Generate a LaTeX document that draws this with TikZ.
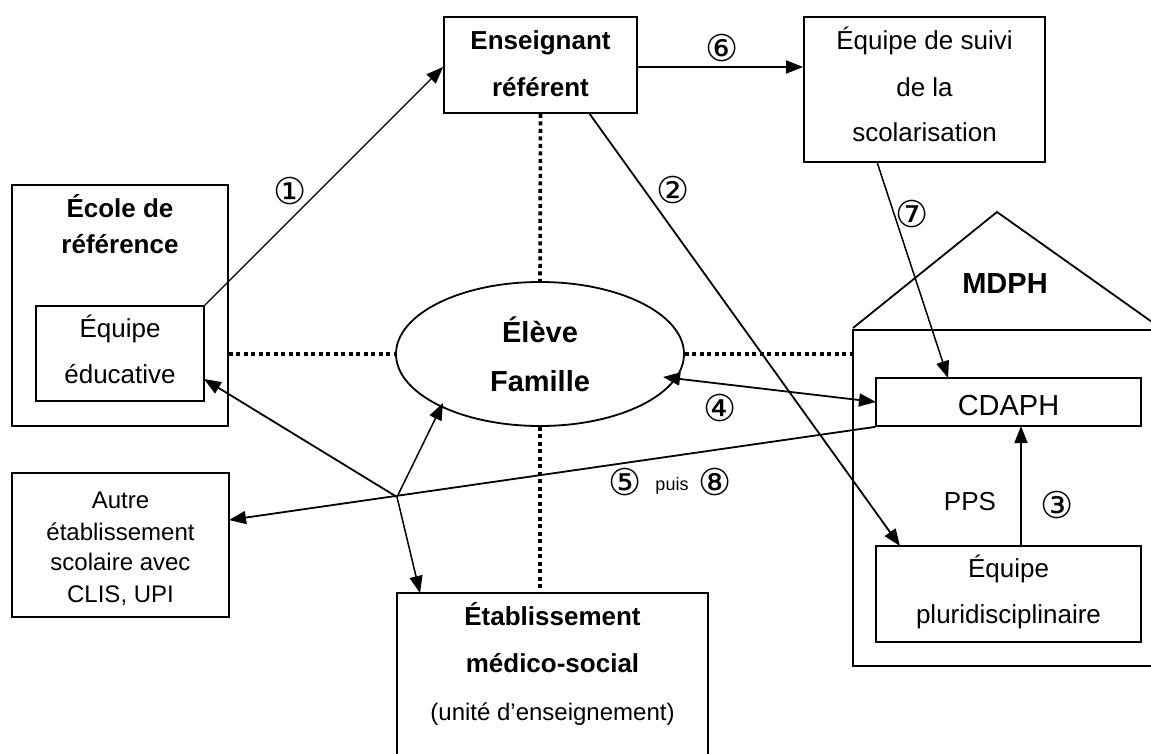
\documentclass[tikz,border=0pt]{standalone}
\usepackage{fontspec}
\setmainfont{Liberation Sans}
\newfontfamily\dv{DejaVu Sans}
\usetikzlibrary{arrows.meta,shapes.geometric}
\begin{document}
\begin{tikzpicture}[x=1pt,y=-1pt,
  box/.style={draw,line width=1.8pt,inner sep=0pt},
  reg/.style={font=\fontsize{26}{30}\selectfont,inner sep=0pt,anchor=base},
  sml/.style={font=\fontsize{24}{28}\selectfont,inner sep=0pt,anchor=base},
  bld/.style={font=\fontsize{26}{30}\selectfont\bfseries,inner sep=0pt,anchor=base},
  big/.style={font=\fontsize{29}{34}\selectfont,inner sep=0pt,anchor=base},
  bigb/.style={font=\fontsize{29}{34}\selectfont\bfseries,inner sep=0pt,anchor=base},
  con/.style={line width=1.8pt},
  arr/.style={con,-{Triangle[length=17pt,width=13pt]}},
  darr/.style={con,{Triangle[length=17pt,width=13pt]}-{Triangle[length=17pt,width=13pt]}},
  dotl/.style={line width=3.6pt,dash pattern=on 4pt off 3.5pt},
  num/.style={font=\fontsize{37}{37}\dv,inner sep=0pt}]
\useasboundingbox (0,0) rectangle (1151,754);

% ---- boxes ----
\node[box,minimum width=216pt,minimum height=241pt] (ecole) at (120,305.5) {};
\node[box,minimum width=168pt,minimum height=95pt] (edu) at (120,353.5) {};
\node[box,minimum width=193pt,minimum height=96pt] (ens) at (540.5,65) {};
\node[box,minimum width=241pt,minimum height=145pt] (suivi) at (924.5,89.5) {};
\node[box,minimum width=217pt,minimum height=144pt] (autre) at (120.5,545) {};
\node[box,minimum width=311pt,minimum height=170pt] (etab) at (552.5,678) {};
\node[draw,line width=1.8pt,ellipse,minimum width=288pt,minimum height=144pt,inner sep=0pt] (eleve) at (540,354) {};
\node[box,minimum width=265pt,minimum height=48pt] (cdaph) at (1008.5,402) {};
\node[box,minimum width=265pt,minimum height=96pt] (pluri) at (1008.5,594) {};

% ---- MDPH house ----
\coordinate (roofL) at (853,328);
\coordinate (apex) at (997,212);
\coordinate (roofR) at (1152,322);
\coordinate (wallTL) at (853,330);
\coordinate (wallTR) at (1152,330);
\coordinate (wallBL) at (853,666);
\coordinate (wallBR) at (1152,666);
\draw[line width=1.8pt] (roofL) -- (apex) -- (roofR);
\draw[line width=1.8pt] (wallTR) -- (wallTL) -- (wallBL) -- (wallBR);

% ---- texts ----
\node[bld] (t1) at (120,218) {École de};
\node[bld] (t2) at (120,253) {référence};
\node[reg] (t3) at (120,337) {Équipe};
\node[reg] (t4) at (120,383) {éducative};
\node[bld] (t5) at (540.5,50) {Enseignant};
\node[bld] (t6) at (540.5,97) {référent};
\node[reg] (t7) at (924.5,50) {Équipe de suivi};
\node[reg] (t8) at (924.5,97) {de la};
\node[reg] (t9) at (924.5,142) {scolarisation};
\node[bigb] (t10) at (540,342) {Élève};
\node[bigb] (t11) at (540,391) {Famille};
\node[bigb] (t12) at (1005,293) {MDPH};
\node[big] (t13) at (1008.5,415) {CDAPH};
\node[reg] (t14) at (1008.5,577) {Équipe};
\node[reg] (t15) at (1008.5,623) {pluridisciplinaire};
\node[reg] (t16) at (970,510) {PPS};
\node[sml] (t17) at (120.5,508) {Autre};
\node[sml] (t18) at (120.5,540) {établissement};
\node[sml] (t19) at (120.5,570) {scolaire avec};
\node[sml] (t20) at (120.5,602) {CLIS, UPI};
\node[bld] (t21) at (552.5,625) {Établissement};
\node[bld] (t22) at (552.5,672) {médico-social};
\node[sml] (t23) at (552.5,720) {(unité d’enseignement)};

% ---- number labels ----
\node[num] (n1) at (290,191) {①};
\node[num] (n2) at (673,190) {②};
\node[num] (n3) at (1057,505) {③};
\node[num] (n4) at (720,408) {④};
\node[num] (n5) at (625,482) {⑤};
\node[font=\fontsize{18}{20}\selectfont,inner sep=0pt,anchor=base] (puis) at (672,490) {puis};
\node[num] (n8) at (715,482) {⑧};
\node[num] (n6) at (722,48) {⑥};
\node[num] (n7) at (912,214) {⑦};

% ---- dotted lines ----
\draw[dotl] (ens.south) -- (eleve.north);
\draw[dotl] (eleve.south) -- (etab.north -| eleve.south);
\draw[dotl] (ecole.east |- eleve.west) -- (eleve.west);
\draw[dotl] (eleve.east) -- (wallTL |- eleve.east);

% ---- connectors ----
\coordinate (hub) at (397,497);
\coordinate (ensR) at (637,67);
\coordinate (ensB) at (589,113);
\coordinate (pluriT) at (900,546);
\coordinate (suiviB) at (877,162);
\coordinate (cdaphT) at (948,378);
\coordinate (cdaphL) at (876,402);
\coordinate (eleveR) at (663,377);
\coordinate (eleveLB) at (443,403);
\coordinate (eduR) at (204,379);
\coordinate (autreR) at (229,520);
\coordinate (etabT) at (420,593);
\coordinate (pluriC) at (1021,546);
\coordinate (cdaphB) at (1021,426);

\draw[arr,line width=1.2pt] (edu.north east) -- (ens.west |- ensR);
\draw[arr] (ensR) -- (ensR -| suivi.west);
\draw[arr] (ensB) -- (pluriT);
\draw[arr,line width=1.5pt] (suiviB) -- (cdaphT);
\draw[darr] (eleveR) -- (cdaphL);
\draw[arr,line width=1.5pt] (pluriC) -- (cdaphB);
\draw[arr] (cdaph.south west) -- (autreR);
\draw[arr] (hub) -- (eduR);
\draw[arr,line width=1.5pt] (hub) -- (eleveLB);
\draw[arr,line width=1.5pt] (hub) -- (etabT);
\end{tikzpicture}
\end{document}
